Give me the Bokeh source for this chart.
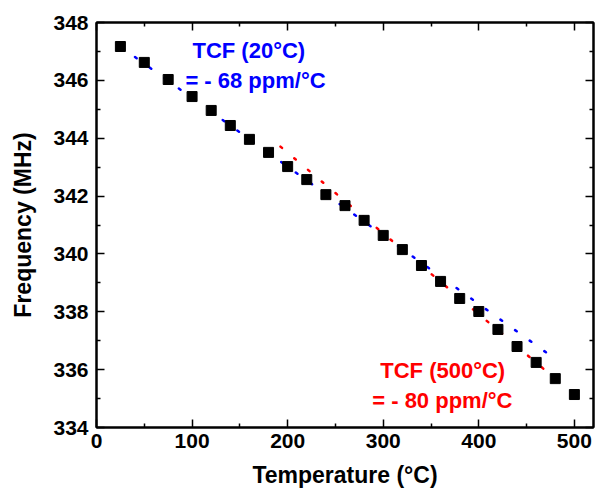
from bokeh.plotting import figure
from bokeh.models import Range1d, FixedTicker, LinearAxis, Label
from bokeh.embed import file_html
from bokeh.resources import INLINE

# measured data
temperature = [25, 50, 75, 100, 120, 140, 160, 180, 200, 220, 240, 260, 280,
               300, 320, 340, 360, 380, 400, 420, 440, 460, 480, 500]
frequency = [347.17, 346.62, 346.03, 345.44, 344.96, 344.44, 343.96, 343.51,
             343.02, 342.57, 342.05, 341.67, 341.16, 340.64, 340.15, 339.60,
             339.05, 338.46, 338.01, 337.39, 336.80, 336.25, 335.69, 335.14]

# linear fits (end points)
fit20_x = [25, 482]
fit20_y = [347.17, 336.32]
fit500_x = [192.5, 482]
fit500_y = [343.71, 335.63]

x_major = [0, 100, 200, 300, 400, 500]
x_minor = [50, 150, 250, 350, 450]
y_major = [334, 336, 338, 340, 342, 344, 346, 348]
y_minor = [335, 337, 339, 341, 343, 345, 347]

FONT = "Liberation Sans"

p = figure(width=595, height=490, output_backend="svg", toolbar_location=None,
           x_range=Range1d(0, 520), y_range=Range1d(334, 348),
           min_border_left=96, min_border_right=2, min_border_top=22,
           min_border_bottom=63)
p.xgrid.visible = False
p.ygrid.visible = False
p.outline_line_color = "black"
p.outline_line_width = 2
p.background_fill_color = "white"
p.border_fill_color = "white"

def style_axis(ax, ticks, minor, show_labels):
    ax.ticker = FixedTicker(ticks=ticks, minor_ticks=minor)
    ax.axis_line_width = 2
    ax.axis_line_color = "black"
    ax.major_tick_in = 8
    ax.major_tick_out = 0
    ax.minor_tick_in = 4
    ax.minor_tick_out = 0
    ax.major_tick_line_width = 1.5
    ax.minor_tick_line_width = 1.5
    if show_labels:
        ax.major_label_text_font = FONT
        ax.major_label_text_font_style = "bold"
        ax.major_label_text_font_size = "21px"
        ax.major_label_text_color = "black"
        ax.axis_label_text_font = FONT
        ax.axis_label_text_font_style = "bold"
        ax.axis_label_text_font_size = "23px"
        ax.axis_label_text_color = "black"
    else:
        ax.major_label_overrides = {t: "" for t in ticks}
        ax.major_label_text_font_size = "1px"
        ax.major_label_text_color = None
        ax.major_label_standoff = 0

style_axis(p.xaxis[0], x_major, x_minor, True)
style_axis(p.yaxis[0], y_major, y_minor, True)
p.xaxis.axis_label = "Temperature (°C)"
p.yaxis.axis_label = "Frequency (MHz)"
p.xaxis.major_label_standoff = 6
p.xaxis.axis_label_standoff = 11
p.yaxis.major_label_standoff = 8
p.yaxis.axis_label_standoff = 14

top = LinearAxis()
style_axis(top, x_major, x_minor, False)
p.add_layout(top, "above")
right = LinearAxis()
style_axis(right, y_major, y_minor, False)
p.add_layout(right, "right")

p.line(fit20_x, fit20_y, line_color="#0000FF", line_width=2.5,
       line_dash="2 16", line_cap="round")
p.line(fit500_x, fit500_y, line_color="#FF0000", line_width=2.5,
       line_dash="2 16", line_cap="round")

p.scatter(temperature, frequency, marker="square", size=10,
          fill_color="black", line_color="black")

def add_label(x, y, text, color):
    p.add_layout(Label(x=x, y=y, text=text, text_color=color,
                       text_font=FONT, text_font_style="bold",
                       text_font_size="22px", text_baseline="middle",
                       text_align="left"))

add_label(100.4, 347.03, "TCF (20°C)", "#0000FF")
add_label(93.0, 345.99, "= - 68 ppm/°C", "#0000FF")
add_label(296.9, 335.97, "TCF (500°C)", "#FF0000")
add_label(288.5, 334.93, "= - 80 ppm/°C", "#FF0000")

open("out.html", "w").write(file_html(p, INLINE))
